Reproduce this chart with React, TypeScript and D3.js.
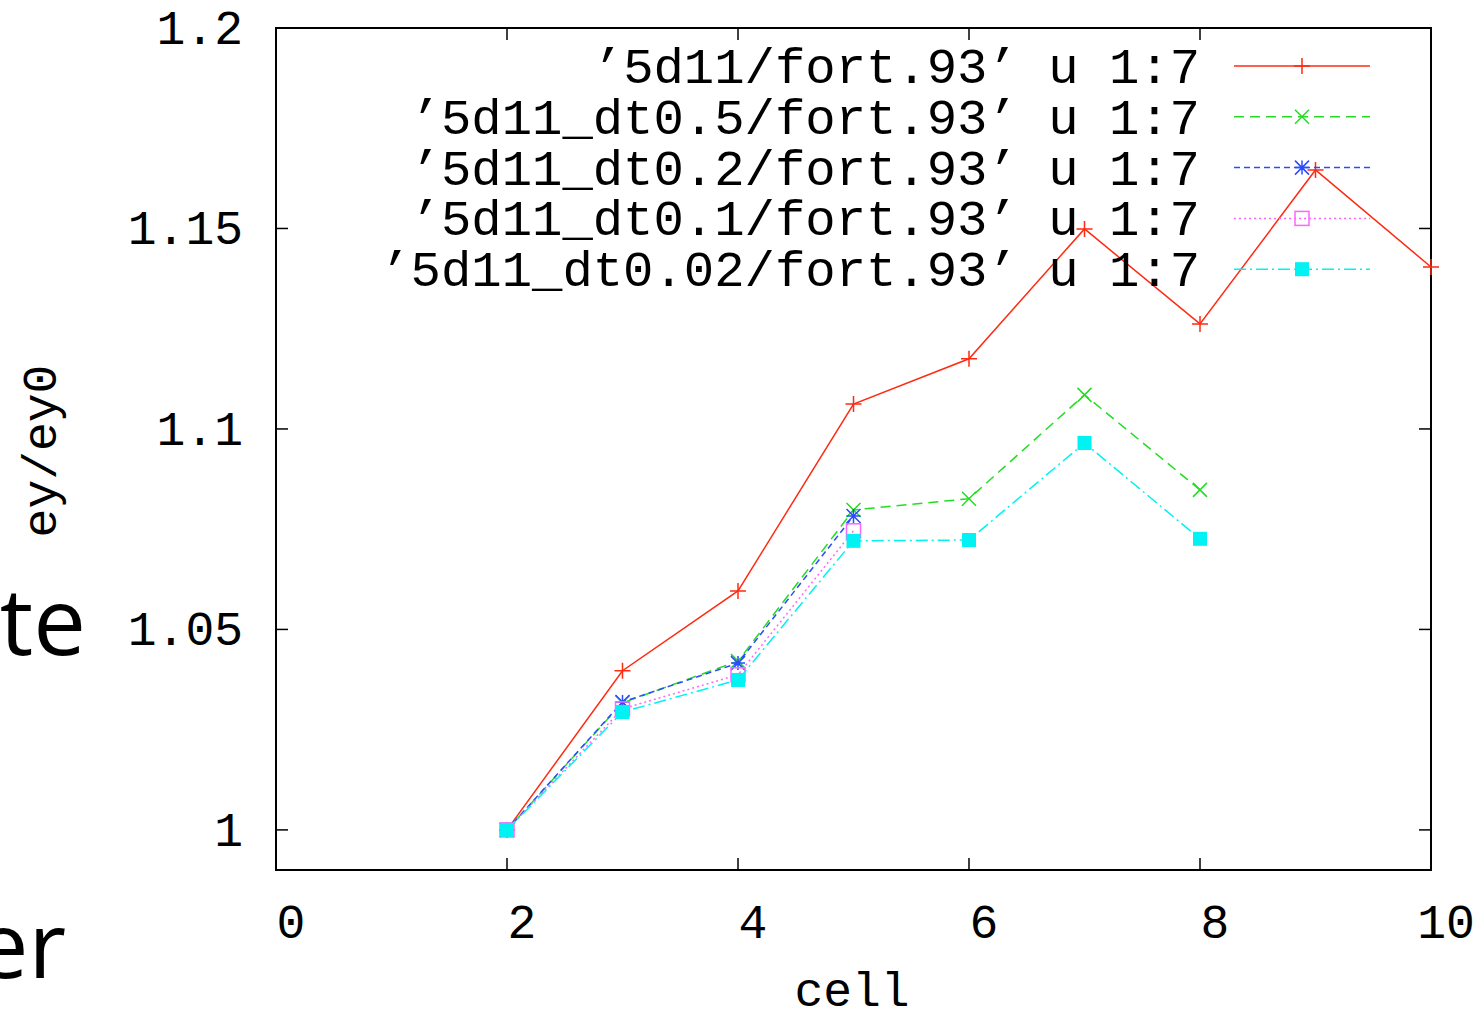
import * as d3 from "d3";

// cells on the x axis
const cells = [2, 3, 4, 5, 6, 7, 8, 9, 10];

// ey/ey0 per run
const base = [1.0, 1.0397, 1.0596, 1.1062, 1.1175, 1.1499, 1.1262, 1.1646, 1.1404];
const dt05 = [1.0, 1.0317, 1.0421, 1.0798, 1.0826, 1.1085, 1.0848];
const dt02 = [1.0, 1.0319, 1.0416, 1.0783];
const dt01 = [1.0, 1.0302, 1.0387, 1.0746];
const dt002 = [1.0, 1.0294, 1.0374, 1.0721, 1.0723, 1.0965, 1.0726];

const labels = [
  "’5d11/fort.93’ u 1:7",
  "’5d11_dt0.5/fort.93’ u 1:7",
  "’5d11_dt0.2/fort.93’ u 1:7",
  "’5d11_dt0.1/fort.93’ u 1:7",
  "’5d11_dt0.02/fort.93’ u 1:7",
];

const xTicks = [0, 2, 4, 6, 8, 10];
const yTicks = [1, 1.05, 1.1, 1.15, 1.2];

const W = 1483;
const H = 1019;
const left = 276, right = 1431, top = 28, bottom = 870;
const mono = "'Liberation Mono', 'Courier New', monospace";

const styles = [
  { color: "#ff2a12", dash: "none", mark: "plus" },
  { color: "#22dd22", dash: "10,6", mark: "cross" },
  { color: "#2a4cff", dash: "6,4", mark: "star" },
  { color: "#ff66ff", dash: "2,3", mark: "box" },
  { color: "#00f2f2", dash: "12,4,2,4", mark: "fbox" },
];

function Marker({ x, y, kind, color }: { x: number; y: number; kind: string; color: string }) {
  const r = 7;
  if (kind === "plus")
    return <path d={`M${x - r - 1},${y}H${x + r + 1}M${x},${y - r - 1}V${y + r + 1}`} stroke={color} strokeWidth={1.5} />;
  if (kind === "cross")
    return <path d={`M${x - r},${y - r}L${x + r},${y + r}M${x - r},${y + r}L${x + r},${y - r}`} stroke={color} strokeWidth={1.5} />;
  if (kind === "star")
    return (
      <path
        d={`M${x - r},${y - r}L${x + r},${y + r}M${x - r},${y + r}L${x + r},${y - r}M${x - r},${y}H${x + r}M${x},${y - r}V${y + r}`}
        stroke={color}
        strokeWidth={1.5}
      />
    );
  if (kind === "box")
    return <rect x={x - r} y={y - r} width={2 * r} height={2 * r} fill="none" stroke={color} strokeWidth={1.5} />;
  return <rect x={x - r} y={y - r} width={2 * r} height={2 * r} fill={color} />;
}

export default function App() {
  const x = d3.scaleLinear().domain([0, 10]).range([left, right]);
  const y = d3.scaleLinear().domain([0.99, 1.2]).range([bottom, top]);
  const series = [base, dt05, dt02, dt01, dt002];
  const line = d3
    .line<number>()
    .x((_, i) => x(cells[i]))
    .y((d) => y(d));

  const legendY = (i: number) => 66 + i * 50.8;

  return (
    <svg width={W} height={H} style={{ position: "absolute", left: 0, top: 0, background: "#fff" }}>
      {/* pieces of the slide behind the plot */}
      <text x={86} y={655} textAnchor="end" fontFamily="'Open Sans', sans-serif" fontSize={94} fill="#000">
        te
      </text>
      <text x={66} y={978} textAnchor="end" fontFamily="'Open Sans', sans-serif" fontSize={92} fill="#000">
        er
      </text>

      {/* frame + ticks */}
      <rect x={left} y={top} width={right - left} height={bottom - top} fill="none" stroke="#000" strokeWidth={2} />
      {yTicks.map((t) => (
        <g key={"y" + t}>
          <line x1={left} x2={left + 12} y1={y(t)} y2={y(t)} stroke="#000" strokeWidth={1.5} />
          <line x1={right - 12} x2={right} y1={y(t)} y2={y(t)} stroke="#000" strokeWidth={1.5} />
          <text x={243} y={y(t) + 16} textAnchor="end" fontFamily={mono} fontSize={48}>
            {d3.format("")(t)}
          </text>
        </g>
      ))}
      {xTicks.map((t) => (
        <g key={"x" + t}>
          <line x1={x(t)} x2={x(t)} y1={bottom} y2={bottom - 12} stroke="#000" strokeWidth={1.5} />
          <line x1={x(t)} x2={x(t)} y1={top} y2={top + 12} stroke="#000" strokeWidth={1.5} />
          <text x={x(t) + 15} y={938} textAnchor="middle" fontFamily={mono} fontSize={48}>
            {t}
          </text>
        </g>
      ))}
      <text x={852} y={1006} textAnchor="middle" fontFamily={mono} fontSize={48}>
        cell
      </text>
      <text transform="translate(56,451) rotate(-90)" textAnchor="middle" fontFamily={mono} fontSize={48}>
        ey/ey0
      </text>

      {series.map((s, k) => {
        const st = styles[k];
        const ly = legendY(k);
        return (
          <g key={k}>
            <text x={1200} y={ly + 17} textAnchor="end" fontFamily={mono} fontSize={50.6}>
              {labels[k]}
            </text>
            <line x1={1234} x2={1370} y1={ly} y2={ly} stroke={st.color} strokeWidth={1.5} strokeDasharray={st.dash} />
            <Marker x={1302} y={ly} kind={st.mark} color={st.color} />
            <path d={line(s) || ""} fill="none" stroke={st.color} strokeWidth={1.5} strokeDasharray={st.dash} />
            {s.map((v, i) => (
              <Marker key={i} x={x(cells[i])} y={y(v)} kind={st.mark} color={st.color} />
            ))}
          </g>
        );
      })}
    </svg>
  );
}
